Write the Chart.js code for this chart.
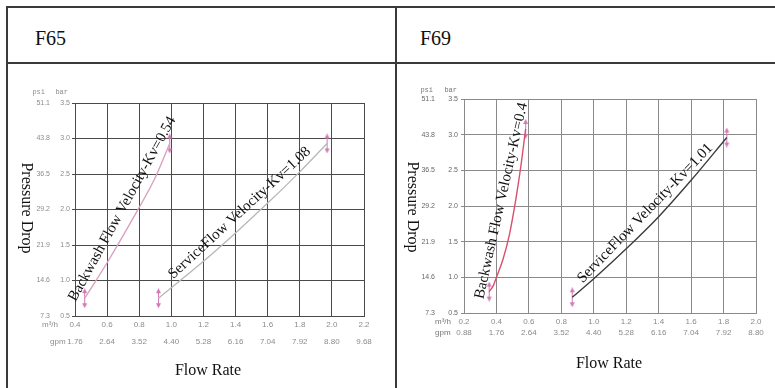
<!DOCTYPE html>
<html>
<head>
<meta charset="utf-8">
<script src="https://cdn.jsdelivr.net/npm/chart.js@4.4.1/dist/chart.umd.min.js"></script>
<style>
  html, body { margin: 0; padding: 0; background: #fff; }
  body { width: 775px; height: 388px; position: relative; overflow: hidden; }
  .hl { position: absolute; left: 6px; right: 0; height: 2px; background: #3a3a3a; }
  .vl { position: absolute; top: 6px; bottom: 0; width: 2px; background: #3a3a3a; }
  .cap { position: absolute; top: 27px; line-height: 20px; font: 20px "Liberation Serif", "Times New Roman", serif; color: #111; }
  .cell { position: absolute; top: 65px; height: 323px; }
</style>
</head>
<body>
<div class="hl" style="top:6px"></div>
<div class="hl" style="top:62px"></div>
<div class="vl" style="left:6px"></div>
<div class="vl" style="left:395px"></div>
<div class="cap" style="left:35px">F65</div>
<div class="cap" style="left:420px">F69</div>
<div class="cell" style="left:9px;width:386px"><canvas id="f65" width="386" height="323"></canvas></div>
<div class="cell" style="left:398px;width:377px"><canvas id="f69" width="377" height="323"></canvas></div>
<script>
// shared pressure axis labels
const barTicks = ['0.5', '1.0', '1.5', '2.0', '2.5', '3.0', '3.5'];
const psiTicks = ['7.3', '14.6', '21.9', '29.2', '36.5', '43.8', '51.1'];

// F65
const f65Flow = ['0.4', '0.6', '0.8', '1.0', '1.2', '1.4', '1.6', '1.8', '2.0', '2.2'];
const f65Gpm = ['1.76', '2.64', '3.52', '4.40', '5.28', '6.16', '7.04', '7.92', '8.80', '9.68'];
const f65BackFlow = [0.46, 0.6, 0.79, 0.9, 0.99];
const f65BackDrop = [0.75, 1.25, 1.99, 2.45, 2.93];
const f65ServFlow = [0.92, 1.2, 1.4, 1.6, 1.8, 1.97];
const f65ServDrop = [0.75, 1.27, 1.67, 2.09, 2.53, 2.93];

// F69
const f69Flow = ['0.2', '0.4', '0.6', '0.8', '1.0', '1.2', '1.4', '1.6', '1.8', '2.0'];
const f69Gpm = ['0.88', '1.76', '2.64', '3.52', '4.40', '5.28', '6.16', '7.04', '7.92', '8.80'];
const f69BackFlow = [0.355, 0.38, 0.40, 0.44, 0.48, 0.52, 0.55, 0.58];
const f69BackDrop = [0.8, 0.88, 1.0, 1.25, 1.6, 2.1, 2.55, 3.08];
const f69ServFlow = [0.867, 1.0, 1.2, 1.4, 1.6, 1.82];
const f69ServDrop = [0.72, 0.98, 1.40, 1.85, 2.36, 2.96];

const sans = '"Liberation Sans", Arial, sans-serif';
const serif = '"Liberation Serif", "Times New Roman", serif';

function pts(xs, ys) {
  return xs.map((x, i) => ({ x: x, y: ys[i] }));
}

// little pink double arrow used at the curve ends
function arrowMark(color) {
  const c = document.createElement('canvas');
  c.width = 7; c.height = 20;
  const g = c.getContext('2d');
  g.strokeStyle = color; g.fillStyle = color; g.lineWidth = 1;
  g.beginPath(); g.moveTo(3.5, 3); g.lineTo(3.5, 17); g.stroke();
  g.beginPath(); g.moveTo(3.5, 0); g.lineTo(1, 5); g.lineTo(6, 5); g.closePath(); g.fill();
  g.beginPath(); g.moveTo(3.5, 20); g.lineTo(1, 15); g.lineTo(6, 15); g.closePath(); g.fill();
  return c;
}
const mark = arrowMark('#d178b6');

// titles, unit captions and the rotated curve notes
const sketchText = {
  id: 'sketchText',
  afterDraw(chart, args, o) {
    const ctx = chart.ctx, a = chart.chartArea;
    const yBar = chart.scales.y, yPsi = chart.scales.yPsi, xs = chart.scales.x;
    ctx.save();
    ctx.fillStyle = '#111';
    ctx.font = '16px ' + serif;
    ctx.textAlign = 'center';
    ctx.textBaseline = 'middle';
    ctx.fillText('Flow Rate', (a.left + a.right) / 2 + o.flowDx, a.bottom + o.flowDy);
    ctx.save();
    ctx.translate(o.dropX, (a.top + a.bottom) / 2 + o.dropDy);
    ctx.rotate(Math.PI / 2);
    ctx.fillText('Pressure Drop', 0, 0);
    ctx.restore();

    // psi / bar heading
    ctx.fillStyle = o.unitColor;
    ctx.font = '7px "Liberation Mono", monospace';
    ctx.textAlign = 'right';
    ctx.fillText('psi', yPsi.right - yPsi.options.ticks.padding - o.psiDx, a.top - o.headDy);
    ctx.fillText('bar', yBar.right - 3 - yBar.options.ticks.padding - o.barDx, a.top - o.headDy);

    // m3/h and gpm row captions
    const lh = xs.options.ticks.font.size * xs.options.ticks.font.lineHeight;
    const row1 = a.bottom + xs.options.ticks.padding + lh / 2;
    ctx.font = '8px ' + sans;
    ctx.textAlign = 'left';
    ctx.fillText('m³/h', o.unitX[0], row1);
    ctx.fillText('gpm', o.unitX[1], row1 + lh);

    // notes along the curves
    ctx.fillStyle = '#111';
    ctx.font = o.noteSize + 'px ' + serif;
    ctx.textAlign = 'center';
    o.notes.forEach(n => {
      const d = chart.getDatasetMeta(n.ds).data;
      const p = d[0], q = d[d.length - 1];
      ctx.save();
      ctx.translate((p.x + q.x) / 2, (p.y + q.y) / 2);
      ctx.rotate(Math.atan2(q.y - p.y, q.x - p.x));
      ctx.fillText(n.text, n.along, -n.up);
      ctx.restore();
    });
    ctx.restore();
  }
};

function makeChart(id, s) {
  const curves = [s.back, s.serv];
  const ends = [];
  curves.forEach(c => { ends.push(c[0], c[c.length - 1]); });
  return new Chart(document.getElementById(id), {
    type: 'scatter',
    data: {
      datasets: [
        { data: s.back, showLine: true, borderColor: s.backColor, borderWidth: 1.4, pointRadius: 0,
          cubicInterpolationMode: 'monotone' },
        { data: s.serv, showLine: true, borderColor: s.servColor, borderWidth: 1.4, pointRadius: 0,
          cubicInterpolationMode: 'monotone' },
        { data: ends, showLine: false, pointStyle: mark, pointRadius: 3 }
      ]
    },
    options: {
      responsive: false,
      animation: false,
      layout: { padding: s.pad },
      plugins: {
        legend: { display: false },
        tooltip: { enabled: false },
        sketchText: s.text
      },
      scales: {
        x: {
          type: 'linear', position: 'bottom', min: s.xMin, max: s.xMax,
          ticks: {
            stepSize: 0.2, autoSkip: false, maxRotation: 0, padding: s.xPad, color: s.xTickColor,
            font: { family: sans, size: 8, lineHeight: s.xLine },
            callback: (v, i) => [s.flow[i], s.gpm[i]]
          },
          grid: { color: s.grid, lineWidth: 1, drawTicks: false },
          border: { color: s.grid },
          afterFit: sc => { sc.height = s.xHeight; }
        },
        y: {
          type: 'linear', position: 'left', weight: 0, min: 0.5, max: 3.5,
          ticks: {
            stepSize: 0.5, autoSkip: false, padding: s.barPad, color: s.yTickColor,
            font: { family: sans, size: 7 },
            callback: (v, i) => barTicks[i]
          },
          grid: { color: s.grid, lineWidth: 1, tickLength: 3 },
          border: { color: s.grid },
          afterFit: sc => { sc.width = s.barW; }
        },
        yPsi: {
          type: 'linear', position: 'left', weight: 1, min: 0.5, max: 3.5,
          ticks: {
            stepSize: 0.5, autoSkip: false, padding: 1, color: s.yTickColor,
            font: { family: sans, size: 7 },
            callback: (v, i) => psiTicks[i]
          },
          grid: { display: false, drawTicks: false },
          border: { display: false },
          afterFit: sc => { sc.width = s.psiW; }
        }
      }
    },
    plugins: [sketchText]
  });
}

makeChart('f65', {
  back: pts(f65BackFlow, f65BackDrop),
  serv: pts(f65ServFlow, f65ServDrop),
  backColor: '#d9a2c0', servColor: '#b9b9b9',
  flow: f65Flow, gpm: f65Gpm, xMin: 0.4, xMax: 2.2,
  pad: { left: 0, top: 38, right: 31, bottom: 0 },
  grid: '#4a4a4a', xTickColor: '#8c8c8c', yTickColor: '#8c8c8c',
  xPad: 0, xLine: 17 / 8, xHeight: 72,
  barPad: 2, barW: 24, psiW: 42,
  text: {
    flowDx: -11.5, flowDy: 55, dropX: 17, dropDy: -1.5,
    unitColor: '#8c8c8c', psiDx: 5, barDx: 2, headDy: 10.5,
    unitX: [33, 41], noteSize: 15,
    notes: [
      { ds: 0, text: 'Backwash Flow Velocity-Kv=0.54', up: 10, along: 8 },
      { ds: 1, text: 'ServiceFlow Velocity-Kv=1.08', up: 8, along: 3 }
    ]
  }
});

makeChart('f69', {
  back: pts(f69BackFlow, f69BackDrop),
  serv: pts(f69ServFlow, f69ServDrop),
  backColor: '#d9506c', servColor: '#3c3c3c',
  flow: f69Flow, gpm: f69Gpm, xMin: 0.2, xMax: 2.0,
  pad: { left: 0, top: 34, right: 19, bottom: 0 },
  grid: '#8a8a8a', xTickColor: '#8a8a8a', yTickColor: '#666666',
  xPad: 3.5, xLine: 11 / 8, xHeight: 75,
  barPad: 3, barW: 28, psiW: 38,
  text: {
    flowDx: -1, flowDy: 51, dropX: 14, dropDy: 1,
    unitColor: '#777777', psiDx: 2, barDx: 1, headDy: 9,
    unitX: [37, 37], noteSize: 15,
    notes: [
      { ds: 0, text: 'Backwash Flow Velocity-Kv=0.4', up: 8, along: 8 },
      { ds: 1, text: 'ServiceFlow Velocity-Kv=1.01', up: 6, along: 0 }
    ]
  }
});
</script>
</body>
</html>
